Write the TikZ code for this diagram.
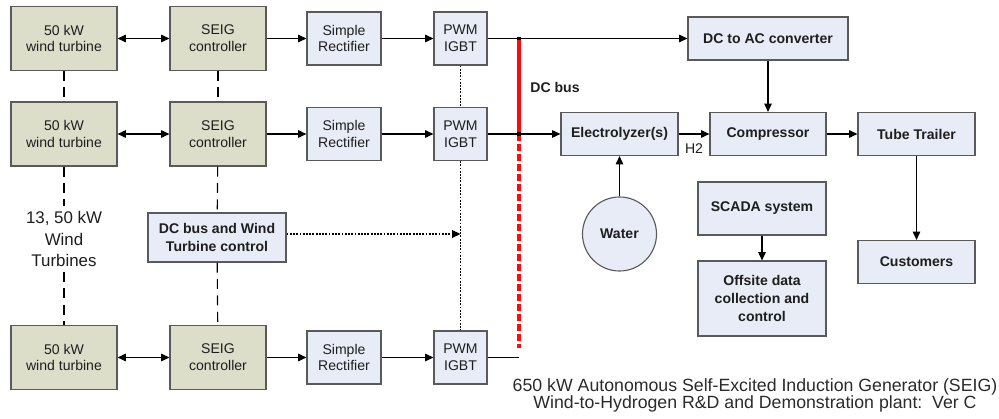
\documentclass[tikz,border=0pt]{standalone}
\usepackage{fontspec}
\setmainfont{Liberation Sans}
\usetikzlibrary{arrows.meta, positioning}
\definecolor{turbfill}{HTML}{DCDEC9}
\definecolor{unitfill}{HTML}{E8ECF6}
\definecolor{edge}{HTML}{5A5A5A}
\definecolor{ink}{HTML}{1E1E1E}
\definecolor{capgray}{HTML}{2A2A2A}
\definecolor{busred}{HTML}{FF0A0A}

\begin{document}
\begin{tikzpicture}[x=0.025cm, y=-0.025cm,
      every node/.style={text=ink, font=\fontsize{10}{12}\selectfont},
      box/.style={draw=edge, line width=0.8pt, align=center, inner sep=2pt},
      turb/.style={box, fill=turbfill, minimum width=2.65cm, minimum height=1.6cm},
      seig/.style={box, fill=turbfill, minimum width=2.4cm, minimum height=1.6cm},
      unit/.style={box, fill=unitfill, minimum height=1.325cm},
      blk/.style={box, fill=unitfill, minimum height=1.075cm, font=\fontsize{10}{12.5}\selectfont\bfseries},
      arr/.style={-{Triangle[length=2.1mm, width=1.9mm]}, line width=0.8pt},
      darr/.style={{Triangle[length=2.1mm, width=1.9mm]}-{Triangle[length=2.1mm, width=1.9mm]}, line width=0.8pt},
      link/.style={dash pattern=on 0.25cm off 0.16cm, line width=0.8pt},
      sig/.style={dash pattern=on 1.3pt off 1pt, line width=1pt},
      bus/.style={draw=busred, line width=3.4pt},
      busdot/.style={draw=busred, line width=3.4pt, dash pattern=on 0.17cm off 0.08cm},
      jn/.style={fill=black, inner sep=0pt, minimum size=2.6pt}
    ]
    \useasboundingbox (0,0) rectangle (999,419);

    % generator rows
    \node[turb] (wt1) at (64,38.5) {50 kW\\wind turbine};
    \node[seig] (sc1) at (218,38.5) {SEIG\\controller};
    \node[unit, minimum width=1.85cm] (rect1) at (344,38.5) {Simple\\Rectifier};
    \node[unit, minimum width=1.325cm] (pwm1) at (460.5,38.5) {PWM\\IGBT};

    \node[turb] (wt2) at (64,134) {50 kW\\wind turbine};
    \node[seig] (sc2) at (218,134) {SEIG\\controller};
    \node[unit, minimum width=1.85cm] (rect2) at (344,134) {Simple\\Rectifier};
    \node[unit, minimum width=1.325cm] (pwm2) at (460.5,134) {PWM\\IGBT};

    \node[turb] (wt3) at (64,357.5) {50 kW\\wind turbine};
    \node[seig] (sc3) at (218,357.5) {SEIG\\controller};
    \node[unit, minimum width=1.85cm] (rect3) at (344,357.5) {Simple\\Rectifier};
    \node[unit, minimum width=1.325cm] (pwm3) at (460.5,357.5) {PWM\\IGBT};

    \node[align=center, font=\fontsize{12}{15.4}\selectfont] (count) at (64,239) {13, 50 kW\\Wind\\Turbines};
    \node[blk, minimum width=3.45cm, minimum height=1.225cm] (dcctl) at (217,237.5) {DC bus and Wind\\Turbine control};

    \draw[darr] (wt1) -- (sc1);
    \draw[arr] (sc1) -- (rect1);
    \draw[arr] (rect1) -- (pwm1);
    \draw[darr] (wt2) -- (sc2);
    \draw[arr] (sc2) -- (rect2);
    \draw[arr] (rect2) -- (pwm2);
    \draw[darr] (wt3) -- (sc3);
    \draw[arr] (sc3) -- (rect3);
    \draw[arr] (rect3) -- (pwm3);

    \draw[link] (wt1) -- (wt2);
    \draw[link] (wt2) -- (count);
    \draw[link] (count) -- (wt3);
    \draw[link] (sc1) -- (sc2);
    \draw[link] (sc2) -- (dcctl);
    \draw[link] (dcctl) -- (sc3);

    \draw[sig] (pwm1) -- (pwm2);
    \draw[sig] (pwm2) -- (pwm3);
    \draw[sig, -{Triangle[length=2.1mm, width=1.9mm]}] (dcctl.east |- 0,234) -- (pwm2.center |- 0,234);

    % hydrogen side
    \node[blk, minimum width=4cm] (dcac) at (768,38.5) {DC to AC converter};
    \node[blk, minimum width=2.925cm] (elec) at (619.5,134) {Electrolyzer(s)};
    \node[blk, minimum width=2.9cm] (comp) at (768,134) {Compressor};
    \node[blk, minimum width=2.925cm] (tube) at (916.5,134) {Tube Trailer};
    \node[blk, minimum width=2.925cm] (cust) at (916.5,262) {Customers};
    \node[blk, circle, minimum size=1.85cm, inner sep=0pt] (water) at (619.5,234) {Water};
    \node[blk, minimum width=3.2cm, minimum height=1.325cm] (scada) at (762,208.5) {SCADA system};
    \node[blk, minimum width=3.2cm, minimum height=1.875cm] (offsite) at (762,298.5) {Offsite data\\collection and\\control};

    \coordinate (bus1) at (519,38.5);
    \coordinate (bus2) at (519,134);
    \coordinate (bus3) at (519,357.5);

    \draw[arr] (pwm1) -- (dcac);
    \draw[arr] (pwm2) -- (elec);
    \draw[line width=0.8pt] (pwm3) -- (bus3);
    \draw[arr] (elec) -- (comp) node[midway, below=3pt] {H2};
    \draw[arr] (dcac) -- (comp);
    \draw[arr] (comp) -- (tube);
    \draw[arr] (tube) -- (cust);
    \draw[arr] (water) -- (elec);
    \draw[arr] (scada) -- (offsite);

    \draw[bus] (bus1) -- (bus2);
    \draw[busdot] (bus2) -- ([yshift=7pt]bus3);
    \node[jn] (j1) at (bus1) {};
    \node[jn] (j2) at (bus2) {};
    \node[font=\fontsize{10}{12}\selectfont\bfseries] (buslbl) at (555,87) {DC bus};

    \node[align=center, text=capgray, font=\fontsize{12.6}{12.3}\selectfont] (title) at (755,395.5)
      {650 kW Autonomous Self-Excited Induction Generator (SEIG)\\Wind-to-Hydrogen R\&D and Demonstration plant:\ \ Ver C};
  \end{tikzpicture}
\end{document}
